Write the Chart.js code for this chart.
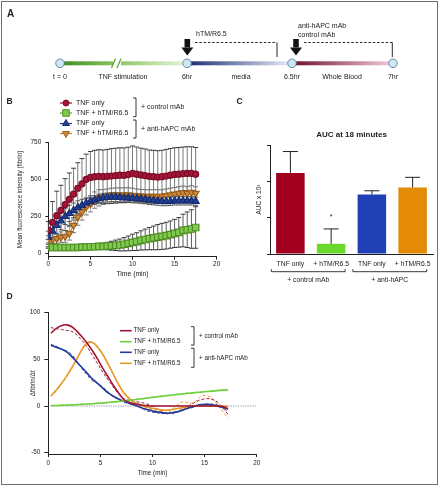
<!DOCTYPE html>
<html>
<head>
<meta charset="utf-8">
<script src="https://cdn.jsdelivr.net/npm/chart.js@4.4.1/dist/chart.umd.min.js"></script>
<style>
  body { margin: 0; background: #fff; }
  #fig { position: relative; width: 440px; height: 486px; overflow: hidden; font-family: 'Liberation Sans', Arial, sans-serif; }
  #fig canvas, #fig svg { position: absolute; }
  #fig svg { will-change: transform; }
  #fig svg text { fill: #222; }
  #frame { position: absolute; left: 1px; top: 1px; width: 437px; height: 484px; border: 1px solid #6e6e6e; box-sizing: border-box; pointer-events: none; }
</style>
</head>
<body>
<div id="fig">
  <!-- panel A: schematic of the protocol -->
  <svg width="440" height="90" style="left:0;top:0" font-family="'Liberation Sans', Arial, sans-serif">
    <defs>
      <linearGradient id="gGreen" gradientUnits="userSpaceOnUse" x1="60" y1="0" x2="187" y2="0">
        <stop offset="0" stop-color="#3e8c1d"/><stop offset="0.45" stop-color="#8cc463"/><stop offset="1" stop-color="#e8f5dc"/>
      </linearGradient>
      <linearGradient id="gBlue" gradientUnits="userSpaceOnUse" x1="187" y1="0" x2="292" y2="0">
        <stop offset="0" stop-color="#1b2b72"/><stop offset="1" stop-color="#eaeef7"/>
      </linearGradient>
      <linearGradient id="gRed" gradientUnits="userSpaceOnUse" x1="292" y1="0" x2="393" y2="0">
        <stop offset="0" stop-color="#6c0e2d"/><stop offset="1" stop-color="#f5cce0"/>
      </linearGradient>
    </defs>
    <rect x="60" y="61.3" width="53" height="4" fill="url(#gGreen)"/>
    <rect x="121" y="61.3" width="66" height="4" fill="url(#gGreen)"/>
    <line x1="111.5" y1="68" x2="115.5" y2="58.5" stroke="#5a9e2e" stroke-width="1.2"/>
    <line x1="117" y1="68" x2="121" y2="58.5" stroke="#5a9e2e" stroke-width="1.2"/>
    <rect x="187" y="61.3" width="105" height="4" fill="url(#gBlue)"/>
    <rect x="292" y="61.3" width="101" height="4" fill="url(#gRed)"/>
    <g fill="#cde6f4" stroke="#4a7390" stroke-width="0.8">
      <circle cx="60" cy="63.3" r="4.3"/><circle cx="187" cy="63.3" r="4.3"/>
      <circle cx="292" cy="63.3" r="4.3"/><circle cx="393" cy="63.3" r="4.3"/>
    </g>
    <g fill="#111">
      <rect x="184.5" y="39" width="5.6" height="8.5"/><polygon points="181.3,47.5 193.3,47.5 187.3,55.5"/>
      <rect x="293.2" y="39" width="5.6" height="8.5"/><polygon points="290,47.5 302,47.5 296,55.5"/>
    </g>
    <g stroke="#111" stroke-width="0.9" fill="none">
      <path d="M195 42.5 H277" stroke-dasharray="2.5 1.8"/><path d="M277 42.5 V57"/>
      <path d="M304 42.5 H392.3" stroke-dasharray="2.5 1.8"/><path d="M392.3 42.5 V57"/>
    </g>
    <g font-size="7">
      <text x="196" y="35.8">hTM/R6.5</text>
      <text x="298" y="28.3">anti-hAPC mAb</text>
      <text x="298" y="37">control mAb</text>
      <g text-anchor="middle">
        <text x="60" y="78.5">t = 0</text>
        <text x="123" y="78.5">TNF stimulation</text>
        <text x="187" y="78.5">6hr</text>
        <text x="241" y="78.5">media</text>
        <text x="292" y="78.5">6.5hr</text>
        <text x="342" y="78.5">Whole Blood</text>
        <text x="393" y="78.5">7hr</text>
      </g>
    </g>
  </svg>

  <canvas id="chartB" width="230" height="200" style="left:0;top:90px"></canvas>
  <canvas id="chartC" width="210" height="200" style="left:230px;top:90px"></canvas>
  <canvas id="chartD" width="270" height="190" style="left:0;top:290px"></canvas>

  <svg width="440" height="486" style="left:0;top:0;pointer-events:none" font-family="'Liberation Sans', Arial, sans-serif" font-weight="bold">
    <text x="7" y="17.3" font-size="10">A</text>
    <text x="6.5" y="104.3" font-size="8.5">B</text>
    <text x="236.5" y="104.3" font-size="8.5">C</text>
    <text x="6.5" y="298.5" font-size="8.5">D</text>
  </svg>
  <div id="frame"></div>
</div>

<script>
// ---------- panel B : fibrin over time ----------
const timeB = [0,0.5,1,1.5,2,2.5,3,3.5,4,4.5,5,5.5,6,6.5,7,7.5,8,8.5,9,9.5,10,10.5,11,11.5,12,12.5,13,13.5,14,14.5,15,15.5,16,16.5,17,17.5];
const tnfCtrl   = [155,210,255,290,330,365,400,440,470,500,513,518,520,518,520,522,525,528,527,532,540,535,530,525,520,518,515,518,522,528,533,535,538,540,540,535];
const tnfCtrlSd = [60,140,165,170,175,178,175,172,170,170,175,178,180,180,182,185,185,185,185,185,185,183,180,180,178,178,178,178,180,180,180,180,180,180,180,180];
const htmCtrl   = [40,40,40,40,40,40,40,40,42,42,45,45,47,48,50,52,55,57,62,68,75,80,88,94,100,105,110,115,120,127,135,142,155,160,165,175];
const htmCtrlSd = [5,5,5,5,5,5,5,8,8,10,10,12,15,20,25,30,35,40,45,50,55,60,65,70,75,80,85,88,90,92,95,100,110,120,130,140];
const tnfApc    = [110,150,190,220,250,270,290,310,325,340,350,360,370,375,378,380,380,378,375,375,372,370,368,365,360,358,355,352,350,352,355,355,355,355,355,352];
const tnfApcSd  = [40,50,60,60,55,55,50,45,40,35,30,30,30,30,30,30,30,30,30,30,30,30,30,30,30,30,30,30,28,28,28,28,28,28,28,28];
const htmApc    = [90,95,100,110,115,135,190,245,280,315,335,360,375,380,385,390,392,392,395,395,392,390,387,385,385,385,385,385,390,395,400,405,410,405,412,405];
const htmApcSd  = [30,30,35,35,40,45,50,55,55,55,55,55,55,50,50,50,50,50,48,48,48,45,45,45,45,45,45,45,45,45,45,45,45,45,45,45];
const ticksBx = [0,5,10,15,20];
const ticksBy = [0,250,500,750];

// ---------- panel C : AUC ----------
const groupsC = ['TNF only','+ hTM/R6.5','TNF only','+ hTM/R6.5'];
const aucC   = [2.23,0.28,1.64,1.83];
const aucSdC = [0.59,0.41,0.10,0.28];
const sigC   = ['','*','',''];
const bracketC = ['+ control mAb','+ anti-hAPC'];
const ticksCy = [0,1,2,3];

// ---------- panel D : rate of fibrin formation ----------
const timeD = [0.25,0.75,1.25,1.75,2.25,2.75,3.25,3.75,4.25,4.75,5.25,5.75,6.25,6.75,7.25,7.75,8.25,8.75,9.25,9.75,10.25,10.75,11.25,11.75,12.25,12.75,13.25,13.75,14.25,14.75,15.25,15.75,16.25,16.75,17.25];
const fitTnfCtrl = [78,83,86,87,85,80,74,67,59,50,40,31,22,14,7,4,2.5,1.5,0.5,0,0,0,0,0,0,0,0,0,0,0,0,0,0,-0.5,-3];
const rawTnfCtrl = [84,83,82,81,80,76,70,63,54,45,36,28,20,13,8,6,5,4,3,1,-2,-5,-7,-7,-6,-4,-1,2,5,7,8,7,4,-2,-9];
const fitHtmCtrl = [0.5,0.6,0.8,1,1.2,1.5,1.8,2.1,2.5,2.9,3.3,3.8,4.3,4.9,5.5,6.1,6.8,7.5,8.2,8.9,9.6,10.3,11,11.6,12.2,12.8,13.4,14,14.5,15,15.5,16,16.5,17,17.5];
const rawHtmCtrl = [0.3,0.5,0.9,1.1,1.0,1.6,2.0,2.0,2.7,3.1,3.2,4.0,4.5,4.8,5.8,6.0,7.2,7.4,8.0,9.3,9.5,10.6,11.2,11.2,12.5,12.6,13.8,14.0,14.8,14.9,15.8,16.0,16.8,17.2,17.0];
const fitTnfApc  = [65,63,61,58,53,47,41,35,29,24,19,14,10.5,7.5,5,3,1,-1,-3,-4.5,-6,-7,-7.8,-7.5,-6.5,-5,-3,-1,0.5,1.5,1.8,1.2,0,-1.5,-3];
const rawTnfApc  = [66,64,61,59,55,48,40,33,27,24,20,15,10,7,4,3,1.5,-1,-4,-6,-7,-7.5,-8,-8,-7,-5,-3,-2,0,1.5,2,2,1,-1,-6];
const fitHtmApc  = [11,17,24,32,41,51,61,68,68,63,55,45,34,23,14,8,4,1,-0.5,-2,-3,-4,-4.5,-4,-3,-2,-1,0,0.5,0.5,0,0,0,0,0];
const rawHtmApc  = [10,16,23,31,40,50,60,67,68,62,54,44,33,23,15,9,4,1,-1,-3,-5,-6,-7,-5,0,4,4,3,6,11,11,8,1,-6,-13];
const ticksDx = [0,5,10,15,20];
const ticksDy = [-50,0,50,100];

const legendNames = ['TNF only','TNF + hTM/R6.5','TNF only','TNF + hTM/R6.5'];
const legendGroups = ['+ control mAb','+ anti-hAPC mAb'];

Chart.defaults.font.family = "'Liberation Sans', Arial, Helvetica, sans-serif";
Chart.defaults.color = '#222';

const ink = '#222';
const toXY = (xs, ys) => xs.map((x, i) => ({x: x, y: ys[i]}));
const fixTicks = list => s => { s.ticks = list.map(v => ({value: v})); };

function drawMarker(ctx, ds, x, y) {
  if (Chart.helpers && Chart.helpers.drawPoint) {
    ctx.fillStyle = ds.pointBackgroundColor;
    ctx.strokeStyle = ds.pointBorderColor;
    ctx.lineWidth = 1;
    Chart.helpers.drawPoint(ctx, {pointStyle: ds.pointStyle, radius: ds.pointRadius, rotation: ds.pointRotation || 0, borderWidth: 1}, x, y);
  } else {
    ctx.fillStyle = ds.pointBackgroundColor;
    ctx.beginPath(); ctx.arc(x, y, ds.pointRadius, 0, Math.PI * 2); ctx.fill();
  }
}

function drawBracket(ctx, x, y1, y2, text) {
  ctx.beginPath();
  ctx.moveTo(x - 3, y1); ctx.lineTo(x, y1); ctx.lineTo(x, y2); ctx.lineTo(x - 3, y2);
  ctx.stroke();
  ctx.fillText(text, x + 5, (y1 + y2) / 2);
}

// error bars, drawn under the markers
const errorBars = {
  id: 'errorBars',
  beforeDatasetsDraw(chart) {
    const {ctx, scales: {x, y}} = chart;
    ctx.save();
    chart.data.datasets.forEach(ds => {
      if (!ds.sd) return;
      ds.data.forEach((p, j) => {
        const px = x.getPixelForValue(p.x);
        const hi = y.getPixelForValue(p.y + ds.sd[j]);
        const lo = y.getPixelForValue(p.y - ds.sd[j]);
        ctx.lineWidth = 0.8;
        ctx.strokeStyle = ds.barColor;
        ctx.beginPath(); ctx.moveTo(px, hi); ctx.lineTo(px, lo); ctx.stroke();
        ctx.strokeStyle = ds.capColor;
        ctx.beginPath();
        ctx.moveTo(px - 2.5, hi); ctx.lineTo(px + 2.5, hi);
        ctx.moveTo(px - 2.5, lo); ctx.lineTo(px + 2.5, lo);
        ctx.stroke();
      });
    });
    ctx.restore();
  }
};

const legendB = {
  id: 'legendB',
  afterDraw(chart) {
    const ctx = chart.ctx;
    const rows = [13, 23, 33.5, 43.5];
    ctx.save();
    ctx.font = "7px 'Liberation Sans', Arial, sans-serif";
    ctx.textBaseline = 'middle';
    chart.data.datasets.forEach((ds, i) => {
      ctx.strokeStyle = ds.borderColor; ctx.lineWidth = 1.2;
      ctx.beginPath(); ctx.moveTo(60, rows[i]); ctx.lineTo(72, rows[i]); ctx.stroke();
      drawMarker(ctx, ds, 66, rows[i]);
      ctx.fillStyle = ink;
      ctx.fillText(legendNames[i], 76, rows[i]);
    });
    ctx.strokeStyle = ink; ctx.lineWidth = 0.9; ctx.fillStyle = ink;
    drawBracket(ctx, 136, 8, 26.7, legendGroups[0]);
    drawBracket(ctx, 136, 30, 48, legendGroups[1]);
    ctx.restore();
  }
};

const axisB = {
  grid: {drawOnChartArea: false, tickLength: 3, color: ink, lineWidth: 1},
  border: {color: ink, width: 1}
};

new Chart(document.getElementById('chartB'), {
  type: 'line',
  data: {
    datasets: [
      {label: 'TNF only', data: toXY(timeB, tnfCtrl), sd: tnfCtrlSd, borderColor: '#9d1232', pointBackgroundColor: '#a3163a', pointBorderColor: '#7d0c25',
       pointStyle: 'circle', pointRadius: 3, borderWidth: 1.2, barColor: '#555', capColor: '#111'},
      {label: 'TNF + hTM/R6.5', data: toXY(timeB, htmCtrl), sd: htmCtrlSd, borderColor: '#5fa834', pointBackgroundColor: '#80ca4f', pointBorderColor: '#4d8f24',
       pointStyle: 'rect', pointRadius: 4.6, borderWidth: 1.2, barColor: '#333', capColor: '#111'},
      {label: 'TNF only', data: toXY(timeB, tnfApc), sd: tnfApcSd, borderColor: '#1f3a8f', pointBackgroundColor: '#22409a', pointBorderColor: '#162c70',
       pointStyle: 'triangle', pointRadius: 4, borderWidth: 1.2, barColor: '#888', capColor: '#333'},
      {label: 'TNF + hTM/R6.5', data: toXY(timeB, htmApc), sd: htmApcSd, borderColor: '#c47f32', pointBackgroundColor: '#cf8a3a', pointBorderColor: '#9a5f1e',
       pointStyle: 'triangle', pointRotation: 180, pointRadius: 4, borderWidth: 1.2, barColor: '#999', capColor: '#555'}
    ]
  },
  options: {
    responsive: false, animation: false,
    layout: {padding: {left: 16.2, right: 13.3, top: 52.3, bottom: 11.9}},
    plugins: {legend: {display: false}, tooltip: {enabled: false}},
    scales: {
      x: Object.assign({
        type: 'linear', min: 0, max: 20,
        afterBuildTicks: fixTicks(ticksBx),
        afterFit: s => { s.height = 21.4; s.paddingLeft = 0; s.paddingRight = 0; },
        ticks: {padding: 0.5, font: {size: 6.5}},
        title: {display: true, text: 'Time (min)', font: {size: 6.8}, padding: 0}
      }, axisB),
      y: Object.assign({
        min: -22, max: 750,
        afterBuildTicks: fixTicks(ticksBy),
        afterFit: s => { s.width = 32.1; s.paddingTop = 0; s.paddingBottom = 0; },
        ticks: {padding: 4, font: {size: 6.5}},
        title: {display: true, text: 'Mean fluorescence intensity (fibrin)', font: {size: 6.3}, padding: 0}
      }, axisB)
    }
  },
  plugins: [errorBars, legendB]
});

// ---------- panel C ----------
const annotC = {
  id: 'annotC',
  afterDatasetsDraw(chart) {
    const {ctx, chartArea, scales: {x, y}} = chart;
    ctx.save();
    ctx.strokeStyle = ink; ctx.fillStyle = ink; ctx.lineWidth = 1;
    ctx.textAlign = 'center'; ctx.textBaseline = 'middle';
    ctx.font = "7px 'Liberation Sans', Arial, sans-serif";
    aucC.forEach((v, i) => {
      const px = x.getPixelForValue(i);
      const top = y.getPixelForValue(v);
      const hi = y.getPixelForValue(v + aucSdC[i]);
      ctx.beginPath();
      ctx.moveTo(px, top); ctx.lineTo(px, hi);
      ctx.moveTo(px - 7.5, hi); ctx.lineTo(px + 7.5, hi);
      ctx.stroke();
      if (sigC[i]) ctx.fillText(sigC[i], px, hi - 12);
    });
    // group brackets under the category labels
    ctx.font = "6.8px 'Liberation Sans', Arial, sans-serif";
    ctx.lineWidth = 0.9;
    bracketC.forEach((txt, g) => {
      const l = x.getPixelForValue(g * 2) - 19;
      const r = x.getPixelForValue(g * 2 + 1) + 14;
      const by = 181.7;
      ctx.beginPath();
      ctx.moveTo(l, by - 2.5); ctx.lineTo(l, by); ctx.lineTo(r, by); ctx.lineTo(r, by - 2.5);
      ctx.stroke();
      ctx.fillText(txt, (l + r) / 2, 190);
    });
    ctx.font = "bold 8px 'Liberation Sans', Arial, sans-serif";
    ctx.fillText('AUC at 18 minutes', (chartArea.left + chartArea.right) / 2, 44.3);
    ctx.restore();
  }
};

new Chart(document.getElementById('chartC'), {
  type: 'bar',
  data: {
    labels: groupsC,
    datasets: [{
      data: aucC,
      backgroundColor: ['#a3001f', '#6ad92c', '#2140b6', '#e38a06'],
      borderWidth: 0, barPercentage: 0.7, categoryPercentage: 1
    }]
  },
  options: {
    responsive: false, animation: false,
    layout: {padding: {left: 25.4, right: 7, top: 55, bottom: 16}},
    plugins: {legend: {display: false}, tooltip: {enabled: false}},
    scales: {
      x: {
        grid: {display: false, drawTicks: false},
        border: {color: ink, width: 1},
        afterFit: s => { s.height = 20; s.paddingLeft = 0; s.paddingRight = 0; },
        ticks: {padding: 5.6, font: {size: 6.8}, autoSkip: false, maxRotation: 0}
      },
      y: {
        min: 0, max: 3,
        afterBuildTicks: fixTicks(ticksCy),
        afterFit: s => { s.width = 14.6; s.paddingTop = 0; s.paddingBottom = 0; },
        grid: {drawOnChartArea: false, tickLength: 3, color: ink},
        border: {color: ink, width: 1},
        ticks: {display: false},
        title: {display: true, text: 'AUC x 10\u00b3', font: {size: 6.5}, padding: 0}
      }
    }
  },
  plugins: [annotC]
});

// ---------- panel D ----------
const colD = {red: '#a01632', green: '#6fd13a', blue: '#23399b', orange: '#e89b2a'};
const lineD = (label, ys, color, dashed) => ({
  label: label, data: toXY(timeD, ys), borderColor: color,
  borderWidth: dashed ? 1 : 1.6, borderDash: dashed ? [3, 2] : [],
  pointRadius: 0, tension: 0.4, fill: false, legend: !dashed
});

const annotD = {
  id: 'annotD',
  beforeDatasetsDraw(chart) {
    const {ctx, chartArea, scales: {y}} = chart;
    const zy = y.getPixelForValue(0);
    ctx.save();
    ctx.strokeStyle = '#666'; ctx.lineWidth = 0.7; ctx.setLineDash([1.2, 1.2]);
    ctx.beginPath(); ctx.moveTo(chartArea.left, zy); ctx.lineTo(chartArea.right, zy); ctx.stroke();
    ctx.restore();
  },
  afterDraw(chart) {
    const ctx = chart.ctx;
    const rows = [40.7, 51.7, 62.3, 73.3];
    ctx.save();
    ctx.font = "6.3px 'Liberation Sans', Arial, sans-serif";
    ctx.textBaseline = 'middle';
    chart.data.datasets.filter(ds => ds.legend).forEach((ds, i) => {
      ctx.strokeStyle = ds.borderColor; ctx.lineWidth = 1.6;
      ctx.beginPath(); ctx.moveTo(120, rows[i]); ctx.lineTo(131.7, rows[i]); ctx.stroke();
      ctx.fillStyle = ink;
      ctx.fillText(legendNames[i], 133.5, rows[i]);
    });
    ctx.strokeStyle = ink; ctx.lineWidth = 0.9; ctx.fillStyle = ink;
    drawBracket(ctx, 194, 36.7, 55, legendGroups[0]);
    drawBracket(ctx, 194, 58.3, 77.3, legendGroups[1]);
    ctx.restore();
  }
};

new Chart(document.getElementById('chartD'), {
  type: 'line',
  data: {
    datasets: [
      lineD('TNF only', fitTnfCtrl, colD.red, false),
      lineD('TNF + hTM/R6.5', fitHtmCtrl, colD.green, false),
      lineD('TNF only', fitTnfApc, colD.blue, false),
      lineD('TNF + hTM/R6.5', fitHtmApc, colD.orange, false),
      lineD('raw', rawTnfCtrl, colD.red, true),
      lineD('raw', rawHtmCtrl, colD.green, true),
      lineD('raw', rawTnfApc, colD.blue, true),
      lineD('raw', rawHtmApc, colD.orange, true)
    ]
  },
  options: {
    responsive: false, animation: false,
    layout: {padding: {left: 29.2, right: 13.3, top: 22.7, bottom: 2.9}},
    plugins: {legend: {display: false}, tooltip: {enabled: false}},
    scales: {
      x: {
        type: 'linear', min: 0, max: 20,
        afterBuildTicks: fixTicks(ticksDx),
        afterFit: s => { s.height = 23.1; s.paddingLeft = 0; s.paddingRight = 0; },
        grid: {drawOnChartArea: false, tickLength: 3, color: ink},
        border: {color: ink, width: 1},
        ticks: {padding: 2.5, font: {size: 6.3}},
        title: {display: true, text: 'Time (min)', font: {size: 6.3}, padding: 0}
      },
      y: {
        min: -51.4, max: 100,
        afterBuildTicks: fixTicks(ticksDy),
        afterFit: s => { s.width = 19.1; s.paddingTop = 0; s.paddingBottom = 0; },
        grid: {drawOnChartArea: false, tickLength: 4, color: ink},
        border: {color: ink, width: 1},
        ticks: {padding: 4, font: {size: 6.3}},
        title: {display: true, text: '\u0394fibrin/\u0394t', font: {size: 6.3}, padding: 0}
      }
    }
  },
  plugins: [annotD]
});
</script>
</body>
</html>
